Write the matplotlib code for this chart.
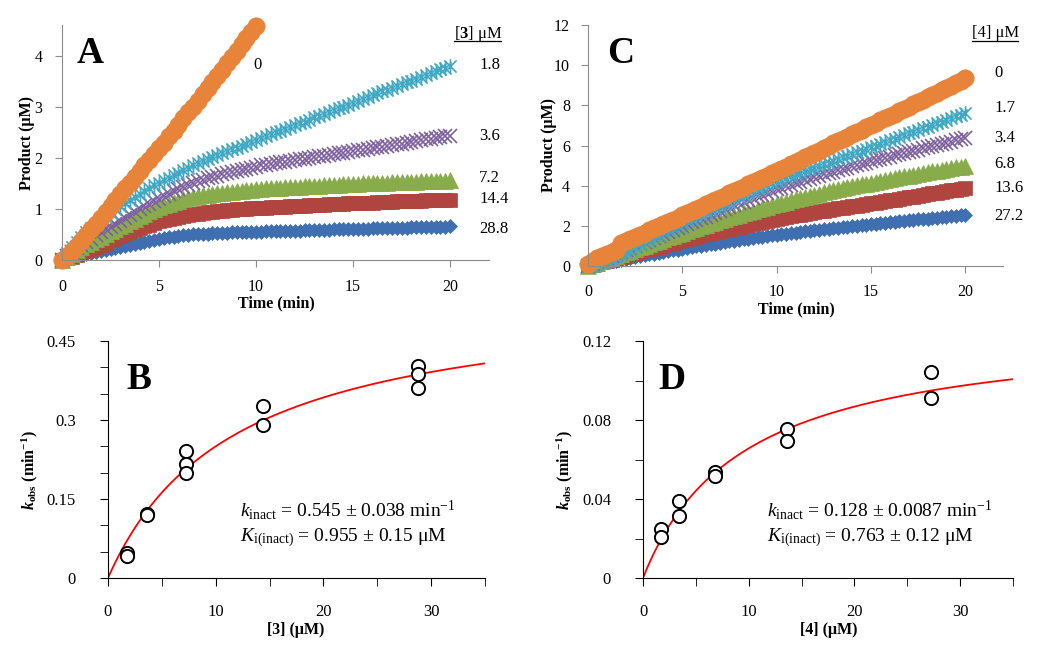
import numpy as np
import matplotlib
matplotlib.use("Agg")
import matplotlib.pyplot as plt
from matplotlib.path import Path
from matplotlib.ticker import MultipleLocator, FuncFormatter
from matplotlib.lines import Line2D

plt.rcParams['font.family'] = 'Liberation Serif'
plt.rcParams['mathtext.fontset'] = 'custom'
plt.rcParams['mathtext.rm'] = 'Liberation Serif'
plt.rcParams['mathtext.it'] = 'Liberation Serif:italic'
plt.rcParams['mathtext.bf'] = 'Liberation Serif:bold'
plt.rcParams['mathtext.bfit'] = 'Liberation Serif:bold:italic'

W, H = 1050, 649

# ---- progress curves, read every 0.25 min ----
time_min = np.arange(0, 20.25, 0.25)

# panel A, [3] in uM (the 0 uM run stops at 10 min)
a_labels = ['0', '1.8', '3.6', '7.2', '14.4', '28.8']
a_0 = [0, .08, .17, .27, .38, .49, .6, .71, .83, .94, 1.06, 1.17, 1.29, 1.4, 1.51, 1.62,
       1.74, 1.85, 1.96, 2.07, 2.19, 2.3, 2.42, 2.53, 2.65, 2.77, 2.89, 3.0, 3.12, 3.24,
       3.36, 3.48, 3.6, 3.72, 3.85, 3.97, 4.1, 4.22, 4.35, 4.47, 4.58]
a_1p8 = [0, .13, .25, .35, .45, .54, .62, .70, .78, .85, .92, .99, 1.05, 1.11, 1.17, 1.23,
         1.29, 1.35, 1.40, 1.46, 1.51, 1.56, 1.61, 1.66, 1.71, 1.76, 1.80, 1.85, 1.89, 1.93,
         1.97, 2.01, 2.05, 2.09, 2.13, 2.17, 2.20, 2.24, 2.28, 2.31, 2.35, 2.39, 2.42, 2.46,
         2.50, 2.53, 2.57, 2.61, 2.64, 2.68, 2.71, 2.75, 2.79, 2.82, 2.86, 2.90, 2.93, 2.97,
         3.00, 3.04, 3.08, 3.11, 3.15, 3.19, 3.22, 3.26, 3.30, 3.33, 3.37, 3.40, 3.44, 3.48,
         3.51, 3.55, 3.58, 3.62, 3.66, 3.69, 3.73, 3.76, 3.80]
a_3p6 = [0, .08, .15, .23, .30, .36, .42, .48, .54, .60, .65, .71, .77, .83, .88, .94, .99,
         1.05, 1.10, 1.15, 1.20, 1.25, 1.30, 1.35, 1.39, 1.43, 1.47, 1.51, 1.54, 1.57, 1.60,
         1.63, 1.65, 1.68, 1.70, 1.73, 1.75, 1.77, 1.79, 1.81, 1.83, 1.85, 1.86, 1.88, 1.89,
         1.91, 1.92, 1.94, 1.95, 1.97, 1.98, 2.00, 2.01, 2.03, 2.04, 2.06, 2.07, 2.09, 2.10,
         2.12, 2.13, 2.15, 2.16, 2.18, 2.19, 2.21, 2.22, 2.24, 2.25, 2.27, 2.28, 2.30, 2.31,
         2.33, 2.34, 2.36, 2.37, 2.39, 2.40, 2.42, 2.43]
a_7p2 = [0, .06, .12, .19, .25, .31, .36, .41, .46, .51, .56, .61, .66, .71, .76, .81, .86,
         .91, .95, .99, 1.03, 1.07, 1.10, 1.13, 1.16, 1.19, 1.21, 1.23, 1.25, 1.27, 1.28,
         1.30, 1.31, 1.32, 1.33, 1.34, 1.35, 1.36, 1.37, 1.38, 1.39, 1.39, 1.40, 1.40, 1.41,
         1.41, 1.42, 1.42, 1.43, 1.43, 1.44, 1.44, 1.45, 1.45, 1.46, 1.46, 1.47, 1.47, 1.48,
         1.48, 1.49, 1.49, 1.50, 1.50, 1.50, 1.50, 1.51, 1.51, 1.52, 1.52, 1.53, 1.53, 1.53,
         1.53, 1.54, 1.54, 1.55, 1.55, 1.55, 1.55, 1.56]
a_14p4 = [0, .03, .06, .09, .13, .17, .21, .25, .30, .34, .39, .43, .47, .51, .55, .59, .62,
          .66, .69, .73, .76, .79, .81, .83, .85, .87, .88, .90, .91, .92, .93, .94, .95, .96,
          .97, .98, .99, 1.00, 1.00, 1.01, 1.01, 1.02, 1.02, 1.03, 1.03, 1.04, 1.04, 1.05,
          1.05, 1.06, 1.06, 1.07, 1.07, 1.08, 1.08, 1.09, 1.09, 1.10, 1.10, 1.11, 1.11, 1.11,
          1.12, 1.12, 1.12, 1.13, 1.13, 1.14, 1.14, 1.15, 1.15, 1.15, 1.15, 1.16, 1.16, 1.17,
          1.17, 1.17, 1.17, 1.18, 1.18]
a_28p8 = [0, .03, .05, .08, .10, .12, .14, .16, .18, .20, .22, .24, .26, .28, .30, .32, .34,
          .36, .38, .40, .42, .44, .45, .46, .47, .48, .49, .50, .50, .51, .51, .52, .52, .53,
          .53, .54, .54, .54, .545, .55, .55, .55, .56, .56, .56, .56, .57, .57, .57, .57, .58,
          .58, .58, .58, .59, .59, .60, .60, .60, .60, .61, .61, .61, .61, .62, .62, .62, .62,
          .63, .63, .63, .63, .64, .64, .64, .64, .65, .65, .65, .65, .66]

# panel C, [4] in uM
c_labels = ['0', '1.7', '3.4', '6.8', '13.6', '27.2']
c_0 = [0.10, 0.25, 0.38, 0.48, 0.58, 0.70, 0.82, 1.15, 1.25, 1.35, 1.45, 1.56, 1.66, 1.77,
       1.87, 1.98, 2.09, 2.20, 2.30, 2.41, 2.52, 2.63, 2.74, 2.85, 2.96, 3.07, 3.18, 3.29,
       3.40, 3.51, 3.62, 3.73, 3.84, 3.95, 4.06, 4.17, 4.28, 4.39, 4.50, 4.61, 4.72, 4.83,
       4.95, 5.06, 5.18, 5.29, 5.41, 5.52, 5.64, 5.75, 5.87, 5.98, 6.10, 6.21, 6.33, 6.44,
       6.56, 6.67, 6.79, 6.90, 7.02, 7.13, 7.25, 7.36, 7.48, 7.59, 7.71, 7.82, 7.94, 8.05,
       8.17, 8.28, 8.40, 8.51, 8.63, 8.74, 8.86, 8.98, 9.10, 9.22, 9.35]
c_1p7 = [0, 0.02, 0.05, 0.15, 0.25, 0.35, 0.45, 0.57, 0.70, 0.82, 0.95, 1.09, 1.22, 1.33,
         1.44, 1.56, 1.67, 1.79, 1.90, 2.01, 2.12, 2.23, 2.34, 2.45, 2.56, 2.67, 2.78, 2.89,
         3.00, 3.11, 3.21, 3.32, 3.42, 3.52, 3.62, 3.72, 3.82, 3.92, 4.02, 4.12, 4.22, 4.30,
         4.39, 4.47, 4.56, 4.64, 4.73, 4.81, 4.90, 4.98, 5.07, 5.15, 5.24, 5.32, 5.41, 5.49,
         5.58, 5.66, 5.75, 5.83, 5.92, 6.00, 6.09, 6.17, 6.26, 6.34, 6.43, 6.51, 6.60, 6.68,
         6.77, 6.85, 6.94, 7.02, 7.11, 7.19, 7.28, 7.36, 7.45, 7.52, 7.60]
c_3p4 = [0, .09, .18, .28, .39, .49, .59, .69, .79, .89, .99, 1.09, 1.19, 1.29, 1.39, 1.49,
         1.59, 1.68, 1.78, 1.88, 1.98, 2.07, 2.17, 2.27, 2.37, 2.46, 2.56, 2.65, 2.75, 2.84,
         2.94, 3.03, 3.12, 3.21, 3.30, 3.39, 3.48, 3.56, 3.65, 3.73, 3.82, 3.90, 3.98, 4.05,
         4.13, 4.20, 4.28, 4.35, 4.42, 4.49, 4.56, 4.63, 4.70, 4.76, 4.83, 4.89, 4.96, 5.02,
         5.09, 5.15, 5.21, 5.27, 5.33, 5.39, 5.45, 5.51, 5.57, 5.63, 5.69, 5.74, 5.80, 5.86,
         5.92, 5.97, 6.03, 6.08, 6.14, 6.19, 6.25, 6.30, 6.36]
c_6p8 = [0, .08, .16, .25, .34, .42, .51, .59, .68, .76, .85, .93, 1.01, 1.09, 1.18, 1.26,
         1.34, 1.42, 1.50, 1.58, 1.66, 1.74, 1.82, 1.89, 1.97, 2.05, 2.12, 2.20, 2.27, 2.35,
         2.42, 2.49, 2.56, 2.63, 2.70, 2.76, 2.83, 2.90, 2.96, 3.03, 3.09, 3.15, 3.21, 3.27,
         3.33, 3.38, 3.44, 3.50, 3.55, 3.60, 3.66, 3.71, 3.76, 3.81, 3.86, 3.91, 3.96, 4.01,
         4.06, 4.10, 4.15, 4.20, 4.24, 4.29, 4.33, 4.38, 4.42, 4.46, 4.50, 4.55, 4.59, 4.63,
         4.67, 4.71, 4.75, 4.79, 4.83, 4.87, 4.91, 4.94, 4.98]
c_13p6 = [0, .06, .12, .18, .25, .31, .38, .45, .52, .58, .65, .71, .78, .84, .91, .97, 1.03,
          1.10, 1.16, 1.22, 1.28, 1.34, 1.40, 1.46, 1.52, 1.58, 1.64, 1.69, 1.75, 1.80, 1.86,
          1.91, 1.96, 2.01, 2.06, 2.11, 2.16, 2.21, 2.26, 2.30, 2.35, 2.39, 2.44, 2.48, 2.52,
          2.56, 2.60, 2.64, 2.68, 2.72, 2.76, 2.80, 2.84, 2.87, 2.91, 2.94, 2.98, 3.01, 3.05,
          3.08, 3.12, 3.16, 3.20, 3.23, 3.27, 3.31, 3.35, 3.38, 3.42, 3.46, 3.50, 3.53, 3.57,
          3.61, 3.65, 3.68, 3.72, 3.76, 3.80, 3.83, 3.87]
c_27p2 = [0, .05, .09, .14, .18, .23, .27, .32, .36, .41, .45, .49, .53, .58, .62, .66, .70,
          .74, .78, .82, .86, .90, .94, .98, 1.01, 1.05, 1.08, 1.12, 1.15, 1.19, 1.22, 1.26,
          1.29, 1.33, 1.36, 1.39, 1.42, 1.46, 1.49, 1.52, 1.55, 1.58, 1.61, 1.64, 1.66, 1.69,
          1.72, 1.75, 1.77, 1.80, 1.83, 1.86, 1.88, 1.91, 1.93, 1.96, 1.98, 2.01, 2.03, 2.06,
          2.08, 2.11, 2.13, 2.16, 2.18, 2.21, 2.23, 2.25, 2.27, 2.30, 2.32, 2.34, 2.36, 2.39,
          2.41, 2.43, 2.45, 2.48, 2.50, 2.52, 2.54]

# ---- kobs vs inhibitor ----
b_conc = [1.8, 1.8, 3.6, 3.6, 7.2, 7.2, 7.2, 14.4, 14.4, 28.8, 28.8, 28.8]
b_kobs = [0.048, 0.042, 0.121, 0.119, 0.241, 0.216, 0.200, 0.327, 0.291, 0.402, 0.387, 0.361]
d_conc = [1.7, 1.7, 3.4, 3.4, 6.8, 6.8, 13.6, 13.6, 27.2, 27.2]
d_kobs = [0.0247, 0.0207, 0.0390, 0.0315, 0.0535, 0.0518, 0.0754, 0.0693, 0.1043, 0.0909]

# hyperbolic fits: kinact and apparent K (uM)
b_kinact, b_kapp = 0.545, 11.8
d_kinact, d_kapp = 0.128, 9.5

orange = '#E8843A'
cyan = '#41A8C4'
purple = '#7D60A0'
green = '#88AC4A'
red = '#B0443F'
blue = '#3F6FB0'
gray = '#8C8C8C'

# excel style asterisk marker
star = Path([(-1, -1), (1, 1), (-1, 1), (1, -1), (0, -1.2), (0, 1.2)],
            [Path.MOVETO, Path.LINETO] * 3)

fig = plt.figure(figsize=(10.5, 6.49), dpi=100)


def rect(l, t, r, b):
    return [l / W, 1 - b / H, (r - l) / W, (b - t) / H]


def ftext(x, y, s, **kw):
    fig.text(x / W, 1 - y / H, s, **kw)


def progress(ax, ys):
    # high inhibitor first so the uninhibited run ends up on top
    styles = [
        dict(marker='D', ms=7.6, mfc=blue, mec=blue, mew=0.5),
        dict(marker='s', ms=10.5, mfc=red, mec=red, mew=0.5),
        dict(marker='^', ms=12, mfc=green, mec=green, mew=0.5),
        dict(marker='x', ms=10.5, mec=purple, mew=1.2),
        dict(marker=star, ms=10.5, mec=cyan, mfc='none', mew=1.2),
        dict(marker='o', ms=12.5, mfc=orange, mec=orange, mew=0.5),
    ]
    for y, st in zip(ys, styles):
        ax.plot(time_min[:len(y)], y, linestyle='none', clip_on=False, **st)
    ax.set_xlim(0, 22)
    ax.set_xticks([0, 5, 10, 15, 20])
    for s in ['top', 'right']:
        ax.spines[s].set_visible(False)
    for s in ['left', 'bottom']:
        ax.spines[s].set_color(gray)
    ax.tick_params(direction='out', length=5, color=gray, labelsize=11.5)


# ---- A ----
axA = fig.add_axes(rect(62, 25, 489, 260))
progress(axA, [a_28p8, a_14p4, a_7p2, a_3p6, a_1p8, a_0])
axA.set_ylim(0, 4.6)
axA.set_yticks([0, 1, 2, 3, 4])
axA.tick_params(axis='x', pad=9)
axA.tick_params(axis='y', pad=9)

# ---- C ----
axC = fig.add_axes(rect(588, 25, 1003, 266))
progress(axC, [c_27p2, c_13p6, c_6p8, c_3p4, c_1p7, c_0])
axC.set_ylim(0, 12)
axC.set_yticks([0, 2, 4, 6, 8, 10, 12])
axC.tick_params(axis='x', pad=8)
axC.tick_params(axis='y', pad=8)


def kplot(ax, conc, kobs, kinact, kapp, ymax, ymajor, yminor):
    xs = np.linspace(0, 35, 300)
    ax.plot(xs, kinact * xs / (kapp + xs), color='red', lw=1.3, zorder=2)
    ax.plot(conc, kobs, linestyle='none', marker='o', ms=9.5, mfc='white', mec='black',
            mew=1.4, zorder=3, clip_on=False)
    ax.set_xlim(0, 35)
    ax.set_ylim(0, ymax)
    ax.xaxis.set_major_locator(MultipleLocator(10))
    ax.xaxis.set_minor_locator(MultipleLocator(5))
    ax.yaxis.set_major_locator(MultipleLocator(ymajor))
    ax.yaxis.set_minor_locator(MultipleLocator(yminor))
    ax.yaxis.set_major_formatter(FuncFormatter(lambda v, p: f'{v:g}'))
    for s in ['top', 'right']:
        ax.spines[s].set_visible(False)
    ax.tick_params(which='both', direction='out', length=6, labelsize=12)
    ax.tick_params(axis='x', pad=13)
    ax.tick_params(axis='y', pad=17)


# ---- B ----
axB = fig.add_axes(rect(108, 341, 485, 578))
kplot(axB, b_conc, b_kobs, b_kinact, b_kapp, 0.45, 0.15, 0.05)

# ---- D ----
axD = fig.add_axes(rect(643, 341, 1013, 578))
kplot(axD, d_conc, d_kobs, d_kinact, d_kapp, 0.12, 0.04, 0.02)

# ---- panel letters ----
for x, y, s in [(77, 63, 'A'), (607, 63, 'C'), (126, 389, 'B'), (658, 389, 'D')]:
    ftext(x, y, s, fontsize=27, fontweight='bold', ha='left', va='baseline')

# ---- axis labels ----
ftext(27, 143, 'Product (μM)', fontsize=11.5, fontweight='bold', rotation=90,
      ha='center', va='center')
ftext(549, 145, 'Product (μM)', fontsize=11.5, fontweight='bold', rotation=90,
      ha='center', va='center')
ftext(276, 303, 'Time (min)', fontsize=11.5, fontweight='bold', ha='center', va='center')
ftext(796, 309, 'Time (min)', fontsize=11.5, fontweight='bold', ha='center', va='center')
ftext(296, 630, '[3] (μM)', fontsize=11.5, fontweight='bold', ha='center', va='center')
ftext(829, 630, '[4] (μM)', fontsize=11.5, fontweight='bold', ha='center', va='center')
klab = r'$\mathbfit{k}_{\mathbf{obs}}$ (min$^{\mathbf{-1}}$)'
ftext(30, 470, klab, fontsize=11.5, fontweight='bold', rotation=90, ha='center', va='center')
ftext(565, 470, klab, fontsize=11.5, fontweight='bold', rotation=90, ha='center', va='center')

# ---- series labels ----
ftext(454, 34, '[$\\mathbf{3}$] μM', fontsize=12, ha='left', va='center')
fig.add_artist(Line2D([454 / W, 501 / W], [1 - 41 / H, 1 - 41 / H], color='black', lw=0.9))
ftext(257, 65, a_labels[0], fontsize=12, ha='center', va='center')
for s, y in zip(a_labels[1:], [65, 136, 178, 199, 229]):
    ftext(479, y, s, fontsize=12, ha='left', va='center')

ftext(972, 33, '[4] μM', fontsize=12, ha='left', va='center')
fig.add_artist(Line2D([972 / W, 1018 / W], [1 - 41 / H, 1 - 41 / H], color='black', lw=0.9))
for s, y in zip(c_labels, [73, 108, 138, 164, 188, 216]):
    ftext(994, y, s, fontsize=12, ha='left', va='center')

# ---- fit results ----
ftext(240, 516, r'$k_{\mathrm{inact}}$ = 0.545 ± 0.038 min$^{\mathrm{-1}}$', fontsize=14,
      ha='left', va='baseline')
ftext(240, 541, r'$K_{\mathrm{i(inact)}}$ = 0.955 ± 0.15 μM', fontsize=14,
      ha='left', va='baseline')
ftext(767, 516, r'$k_{\mathrm{inact}}$ = 0.128 ± 0.0087 min$^{\mathrm{-1}}$', fontsize=14,
      ha='left', va='baseline')
ftext(767, 541, r'$K_{\mathrm{i(inact)}}$ = 0.763 ± 0.12 μM', fontsize=14,
      ha='left', va='baseline')

fig.savefig('out.png', dpi=100)
